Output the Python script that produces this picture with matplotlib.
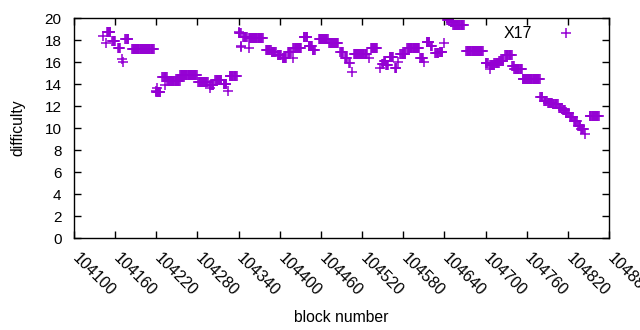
import numpy as np
import matplotlib
matplotlib.use("Agg")
import matplotlib.pyplot as plt
from matplotlib.transforms import ScaledTranslation

# ====== DATA (runs of equal difficulty: first block, last block, value) ======
run_start = [104142, 104147, 104148, 104156, 104164, 104170, 104172, 104175, 104185,
             104219, 104220, 104221, 104229, 104233, 104236, 104255, 104281, 104298,
             104299, 104306, 104318, 104324, 104327, 104340, 104341, 104343, 104344,
             104347, 104355, 104355, 104380, 104388, 104397, 104404, 104412, 104419,
             104420, 104435, 104442, 104448, 104457, 104472, 104488, 104495, 104501,
             104505, 104508, 104530, 104533, 104546, 104549, 104552, 104555, 104560,
             104568, 104573, 104576, 104586, 104605, 104611, 104614, 104620, 104627,
             104633, 104640, 104644, 104649, 104653, 104672, 104700, 104706, 104707,
             104713, 104720, 104729, 104739, 104742, 104754, 104780, 104785, 104791,
             104798, 104807, 104813, 104817, 104823, 104829, 104835, 104839, 104844,
             104845, 104852]
run_end = [104142, 104147, 104153, 104160, 104167, 104170, 104172, 104179, 104216,
           104219, 104226, 104221, 104235, 104233, 104254, 104279, 104295, 104298,
           104303, 104315, 104322, 104324, 104337, 104340, 104343, 104343, 104344,
           104352, 104355, 104375, 104387, 104394, 104402, 104409, 104416, 104419,
           104431, 104440, 104447, 104451, 104470, 104485, 104492, 104498, 104502,
           104505, 104527, 104530, 104542, 104546, 104551, 104554, 104558, 104565,
           104570, 104573, 104583, 104603, 104609, 104611, 104618, 104622, 104631,
           104637, 104640, 104647, 104652, 104668, 104696, 104703, 104706, 104712,
           104719, 104726, 104738, 104741, 104753, 104779, 104783, 104789, 104797,
           104805, 104811, 104816, 104821, 104827, 104833, 104838, 104842, 104844,
           104845, 104865]
run_value = [18.4, 17.7, 18.7, 17.9, 17.3, 16.3, 16.0, 18.1, 17.2,
             13.4, 13.3, 13.6, 14.6, 13.9, 14.3, 14.8, 14.2, 13.6,
             13.9, 14.4, 14.0, 13.4, 14.7, 18.7, 18.6, 17.5, 17.4,
             18.3, 17.3, 18.2, 17.1, 16.9, 16.6, 16.4, 16.9, 16.4,
             17.3, 18.3, 17.5, 17.1, 18.1, 17.7, 16.9, 16.4, 15.9,
             15.1, 16.7, 16.4, 17.3, 15.5, 15.8, 16.1, 15.7, 16.5,
             15.5, 16.0, 16.7, 17.3, 16.4, 16.0, 17.8, 17.5, 16.8,
             16.9, 17.7, 19.8, 19.6, 19.4, 17.0, 15.9, 15.4, 15.7,
             15.9, 16.1, 16.6, 15.6, 15.4, 14.45, 12.8, 12.5, 12.3,
             12.2, 11.8, 11.6, 11.4, 11.0, 10.6, 10.2, 9.9, 9.9,
             9.45, 11.1]
series_name = "X17"

x_ticks = list(range(104100, 104881, 60))
y_ticks = list(range(0, 21, 2))

COLOR = "#9400d3"
FONT = "Liberation Sans"

blocks = np.concatenate([np.arange(s, e + 1) for s, e in zip(run_start, run_end)])
values = np.concatenate([np.full(e - s + 1, v) for s, e, v in zip(run_start, run_end, run_value)])

plt.rcParams["font.family"] = FONT
fig = plt.figure(figsize=(6.4, 3.3), dpi=100)
ax = fig.add_axes([74 / 640, 1 - 238 / 330, (609 - 74) / 640, (238 - 18) / 330])

ax.plot(blocks, values, linestyle="none", marker="+", color=COLOR,
        markersize=6.5, markeredgewidth=1.1, label=series_name)

ax.set_xlim(104100, 104880)
ax.set_ylim(0, 20)
ax.set_xticks(x_ticks)
ax.set_yticks(y_ticks)
ax.set_xticklabels([str(t) for t in x_ticks], rotation=-45, ha="left", va="top",
                   rotation_mode="anchor", fontsize=11.5)
ax.tick_params(direction="in", length=5, width=1, top=True, right=True)
ax.tick_params(axis="y", labelsize=11, pad=9)
ax.tick_params(axis="x", pad=9)
shift = ScaledTranslation(6 / 100, 0, fig.dpi_scale_trans)
for lab in ax.get_xticklabels():
    lab.set_transform(lab.get_transform() + shift)
for sp in ax.spines.values():
    sp.set_linewidth(1)

ax.set_xlabel("block number", fontsize=11.3, labelpad=8)
ax.set_ylabel("difficulty", fontsize=11.3, labelpad=14)

ax.legend(loc="upper right", frameon=False, markerfirst=False, fontsize=11.5,
          handlelength=2.0, handletextpad=1.1, borderaxespad=0.5,
          bbox_to_anchor=(1 - 13 / 535, 1 + 6 / 220))

fig.savefig("out.png", dpi=100)
